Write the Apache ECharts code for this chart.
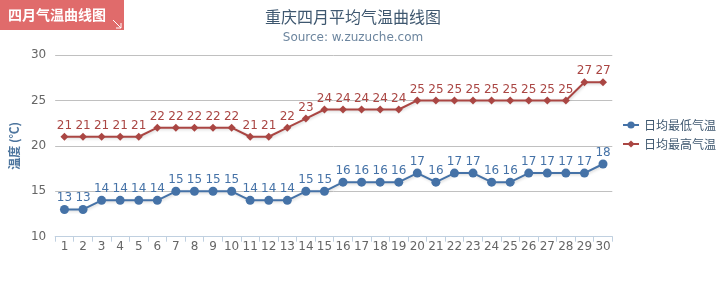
<!DOCTYPE html>
<html>
<head>
<meta charset="utf-8">
<script src="https://cdn.jsdelivr.net/npm/echarts@6/dist/echarts.min.js"></script>
<style>
html,body{margin:0;padding:0;background:#fff;}
#main{width:721px;height:289px;}
</style>
</head>
<body>
<div id="main"></div>
<script>
var days = ['1','2','3','4','5','6','7','8','9','10','11','12','13','14','15','16','17','18','19','20','21','22','23','24','25','26','27','28','29','30'];
var lowTemps = [13,13,14,14,14,14,15,15,15,15,14,14,14,15,15,16,16,16,16,17,16,17,17,16,16,17,17,17,17,18];
var highTemps = [21,21,21,21,21,22,22,22,22,22,21,21,22,23,24,24,24,24,24,25,25,25,25,25,25,25,25,25,27,27];
var yTicks = [10, 15, 20, 25, 30];

var numFont = '"DejaVu Sans", Verdana, sans-serif';
var cjkFont = '"Noto Sans CJK SC", "DejaVu Sans", sans-serif';

var chart = echarts.init(document.getElementById('main'), null, {renderer: 'canvas'});
chart.setOption({
  animation: false,
  backgroundColor: '#ffffff',
  title: {
    text: '重庆四月平均气温曲线图',
    subtext: 'Source: w.zuzuche.com',
    left: 348,
    textAlign: 'center',
    top: 4,
    itemGap: 7,
    textStyle: {fontFamily: cjkFont, fontSize: 16, fontWeight: 'normal', color: '#3E576F'},
    subtextStyle: {fontFamily: numFont, fontSize: 12, color: '#6D869F'}
  },
  legend: {
    orient: 'vertical',
    left: 617,
    top: 114,
    itemWidth: 16,
    itemHeight: 9,
    itemGap: 7,
    textStyle: {fontFamily: cjkFont, fontSize: 12, color: '#3E576F'},
    data: ['日均最低气温', '日均最高气温']
  },
  grid: {left: 53.7, right: 108.7, top: 55, bottom: 52.3, containLabel: false},
  xAxis: {
    type: 'category',
    data: days,
    boundaryGap: true,
    axisLine: {lineStyle: {color: '#C0D0E0', width: 1}},
    axisTick: {show: true, alignWithLabel: false, length: 5, lineStyle: {color: '#C0D0E0'}},
    axisLabel: {fontFamily: numFont, fontSize: 12, color: '#666666', margin: 4, interval: 0}
  },
  yAxis: {
    type: 'value',
    min: yTicks[0],
    max: yTicks[yTicks.length - 1],
    interval: 5,
    name: '温度 (℃)',
    nameLocation: 'middle',
    nameGap: 32,
    nameTextStyle: {fontFamily: cjkFont, fontSize: 12, fontWeight: 'bold', color: '#4d759e'},
    axisLine: {show: false},
    axisTick: {show: false},
    splitLine: {lineStyle: {color: '#C0C0C0', width: 1}},
    axisLabel: {fontFamily: numFont, fontSize: 12, color: '#666666', margin: 9}
  },
  series: [
    {
      name: '日均最低气温',
      type: 'line',
      data: lowTemps,
      symbol: 'circle',
      symbolSize: 9,
      color: '#4572A7',
      lineStyle: {width: 2, color: '#4572A7', shadowBlur: 3, shadowColor: 'rgba(0,0,0,0.18)', shadowOffsetX: 1, shadowOffsetY: 1},
      itemStyle: {color: '#4572A7'},
      label: {show: true, position: 'top', distance: 1, fontFamily: numFont, fontSize: 12, color: '#4572A7'}
    },
    {
      name: '日均最高气温',
      type: 'line',
      data: highTemps,
      symbol: 'diamond',
      symbolSize: 8,
      color: '#AA4643',
      lineStyle: {width: 2, color: '#AA4643', shadowBlur: 3, shadowColor: 'rgba(0,0,0,0.18)', shadowOffsetX: 1, shadowOffsetY: 1},
      itemStyle: {color: '#AA4643'},
      label: {show: true, position: 'top', distance: 1, fontFamily: numFont, fontSize: 12, color: '#AA4643'}
    }
  ],
  graphic: [
    {type: 'rect', shape: {x: 0, y: 0, width: 124, height: 30}, style: {fill: '#E06B6B'}, z: 100},
    {type: 'text', x: 8, y: 15, style: {text: '四月气温曲线图', fill: '#ffffff', fontFamily: cjkFont, fontSize: 14, fontWeight: 'bold', textVerticalAlign: 'middle'}, z: 101},
    {type: 'polyline', shape: {points: [[113, 20], [121, 28]]}, style: {stroke: '#ffffff', lineWidth: 1, fill: null}, z: 101},
    {type: 'polyline', shape: {points: [[116, 28], [121, 28], [121, 23]]}, style: {stroke: '#ffffff', lineWidth: 1, fill: null}, z: 101}
  ]
});
</script>
</body>
</html>
